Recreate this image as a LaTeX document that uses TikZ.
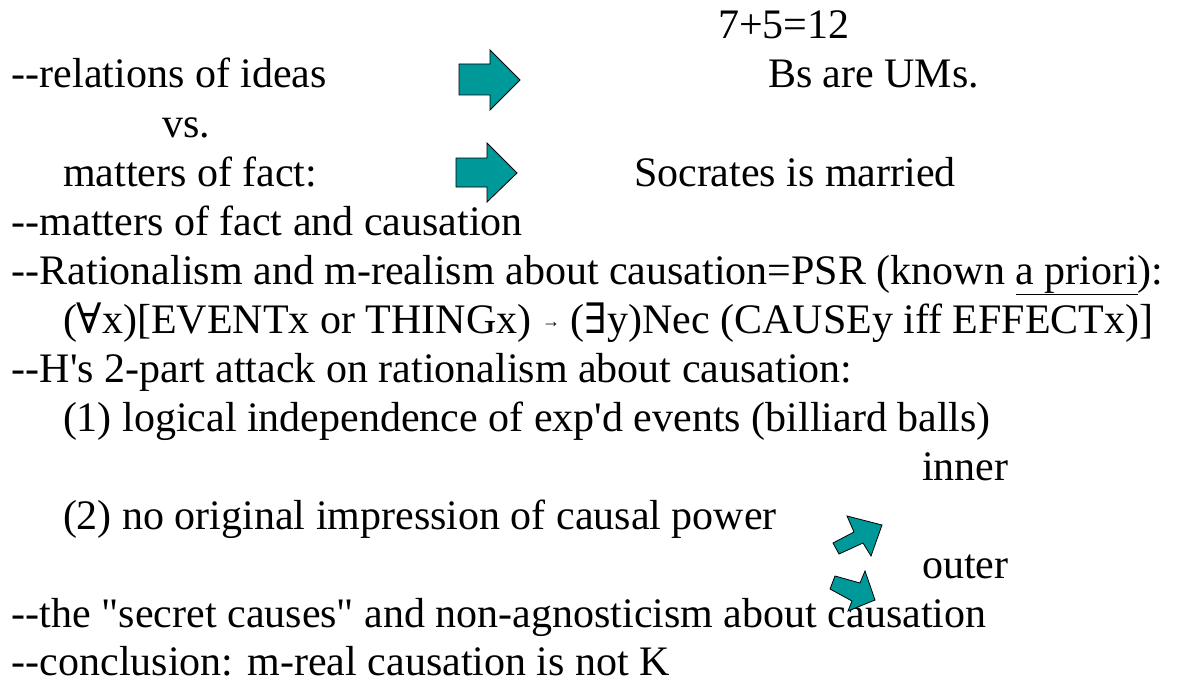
\documentclass[tikz,border=0pt]{standalone}
\usepackage{fontspec}
\setmainfont{Liberation Serif}
\newfontfamily\symfont{DejaVu Serif}
\definecolor{arrowteal}{RGB}{0,153,153}
\begin{document}
\begin{tikzpicture}[x=1pt,y=-1pt,
  txt/.style={anchor=base west,inner sep=0pt,outer sep=0pt,font=\fontsize{42}{49}\selectfont},
  blockarrow/.style={fill=arrowteal,draw=black,line width=0.8pt,line join=miter}]
\useasboundingbox[fill=white] (0,0) rectangle (1193,682);
\node[txt] (eq) at (718,39) {7+5=12};
\node[txt] (rel) at (12,88) {-{}-relations of ideas};
\node[txt] (bs) at (768,88) {Bs are UMs.};
\node[txt] (vs) at (162,137) {vs.};
\node[txt] (mof) at (63,186) {matters of fact:};
\node[txt] (soc) at (634,186) {Socrates is married};
\node[txt] (mofc) at (12,235) {-{}-matters of fact and causation};
\node[txt] (rat) at (12,284) {-{}-Rationalism and m-realism about causation=PSR (known \underline{a priori}):};
\node[txt] (psr) at (63,333) {({\symfont ∀}x)[EVENTx or THINGx) {\fontsize{18}{18}\selectfont\raisebox{6pt}{→}} ({\symfont ∃}y)Nec (CAUSEy iff EFFECTx)]};
\node[txt] (hs) at (12,382) {-{}-H\textquotesingle s 2-part attack on rationalism about causation:};
\node[txt] (one) at (63,431) {(1) logical independence of exp\textquotesingle d events (billiard balls)};
\node[txt] (inner) at (922,480) {inner};
\node[txt] (two) at (63,529) {(2) no original impression of causal power};
\node[txt] (outer) at (922,578) {outer};
\node[txt] (sec) at (12,627) {-{}-the \textquotedbl secret causes\textquotedbl{} and non-agnosticism about causation};
\node[txt,text depth=0pt] (conc) at (12,675) {-{}-conclusion: m-real causation is not K};
\draw[blockarrow] (459,64) -- (490,64) -- (490,50) -- (520,80) -- (490,110) -- (490,95) -- (459,95) -- cycle;
\draw[blockarrow] (456,158) -- (487,158) -- (487,143) -- (517,173) -- (487,202) -- (487,187) -- (456,187) -- cycle;
\draw[blockarrow] (833,543) -- (854,532) -- (847,516) -- (882,525) -- (871,556) -- (863,543) -- (839,554) -- cycle;
\draw[blockarrow] (835,576) -- (860,583) -- (865,571) -- (875,600) -- (848,611) -- (852,601) -- (830,589) -- cycle;
\end{tikzpicture}
\end{document}
